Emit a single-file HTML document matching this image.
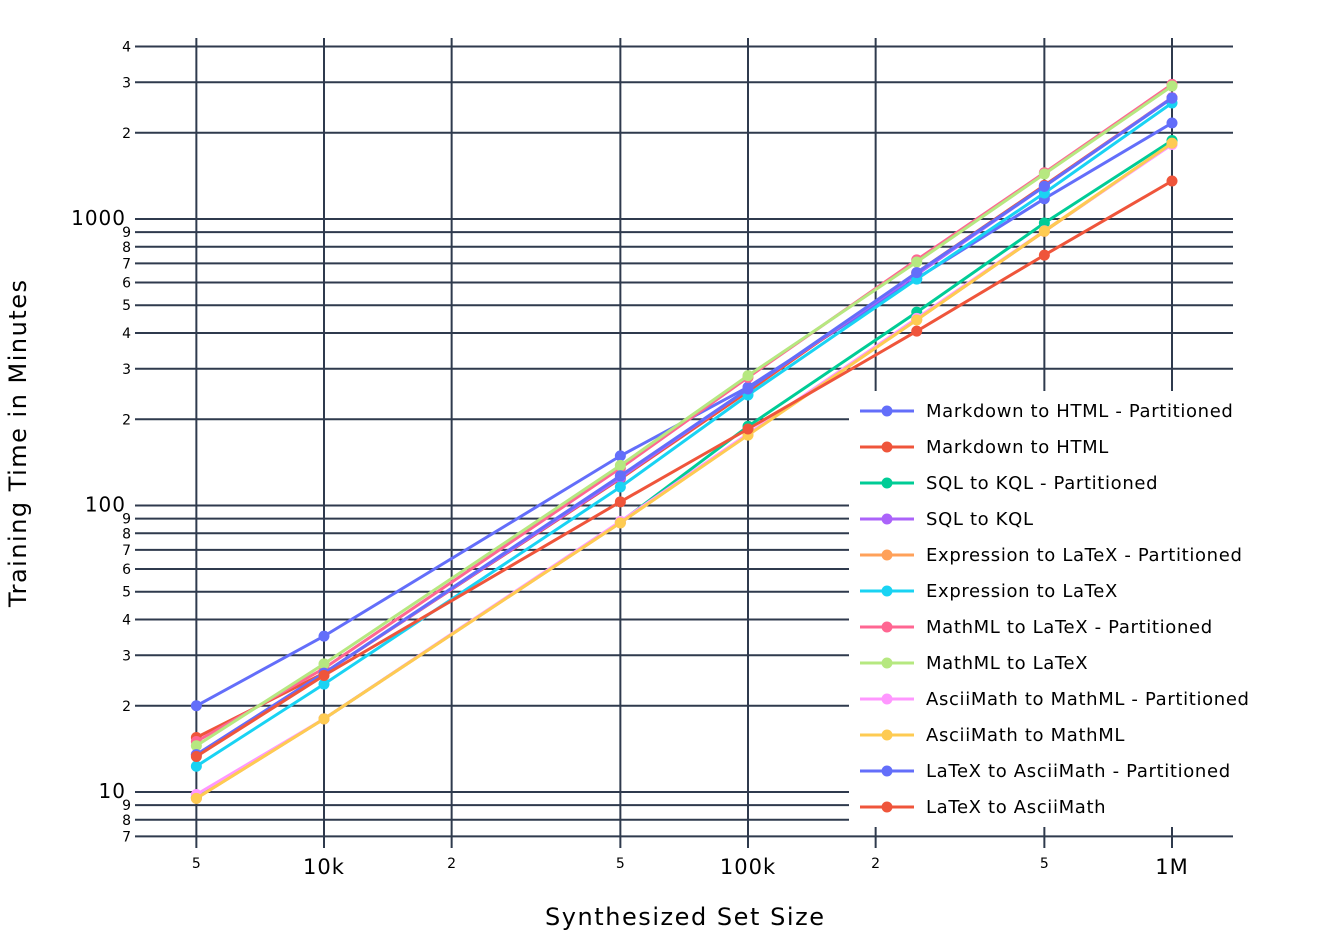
<!DOCTYPE html>
<html><head><meta charset="utf-8"><style>
html,body{margin:0;padding:0;background:#fff;}
svg{display:block;font-family:"DejaVu Sans","Liberation Sans",sans-serif;}
</style></head><body>
<svg id="chart" width="1329" height="949" viewBox="0 0 1329 949">
<g id="grid"></g>
<g id="series"></g>
<rect x="849" y="391" width="402" height="436" fill="#fff"/>
<g id="legend"></g>
<text x="545" y="925" font-size="24" textLength="279" lengthAdjust="spacing" fill="#000">Synthesized Set Size</text>
<text transform="translate(26,607) rotate(-90)" font-size="24" textLength="327" lengthAdjust="spacing" fill="#000">Training Time in Minutes</text>
</svg>
<script>
const xValues=[5000,10000,50000,100000,250000,500000,1000000];
const seriesNames=["Markdown to HTML - Partitioned","Markdown to HTML","SQL to KQL - Partitioned","SQL to KQL","Expression to LaTeX - Partitioned","Expression to LaTeX","MathML to LaTeX - Partitioned","MathML to LaTeX","AsciiMath to MathML - Partitioned","AsciiMath to MathML","LaTeX to AsciiMath - Partitioned","LaTeX to AsciiMath"];
const seriesColors=["#636efa","#EF553B","#00cc96","#ab63fa","#FFA15A","#19d3f3","#FF6692","#B6E880","#FF97FF","#FECB52","#636efa","#EF553B"];
const s0=[20,35,149,259,620,1177,2163];
const s1=[15.5,26,124,250,650,1310,2650];
const s2=[9.6,18,87.5,189,473,968,1880];
const s3=[13.5,26,125,255,640,1300,2650];
const s4=[9.5,18,87,177,445,905,1830];
const s5=[12.3,23.8,116,243,617,1232,2541];
const s6=[15,27,135,280,720,1450,2950];
const s7=[14.5,28,138,284,708,1436,2911];
const s8=[9.8,18,88,178,450,910,1820];
const s9=[9.5,18,87,176,444,908,1840];
const s10=[13.5,26,127,255,650,1300,2640];
const s11=[13.3,25.5,103,185,406,748,1357];
const allSeries=[s0,s1,s2,s3,s4,s5,s6,s7,s8,s9,s10,s11];
const xTickVals=[5000,10000,20000,50000,100000,200000,500000,1000000];
const xTickLabels=["5","10k","2","5","100k","2","5","1M"];
const yTickVals=[7,8,9,10,20,30,40,50,60,70,80,90,100,200,300,400,500,600,700,800,900,1000,2000,3000,4000];
const yTickLabels=["7","8","9","10","2","3","4","5","6","7","8","9","100","2","3","4","5","6","7","8","9","1000","2","3","4"];

const NS="http://www.w3.org/2000/svg";
function X(v){return 324+(Math.log10(v)-4)*424;}
function Y(v){return 792-(Math.log10(v)-1)*286.5;}
function mk(tag,attrs,parent){const e=document.createElementNS(NS,tag);for(const k in attrs)e.setAttribute(k,attrs[k]);parent.appendChild(e);return e;}
const grid=document.getElementById('grid'),ser=document.getElementById('series'),leg=document.getElementById('legend');
const GC="#2f3a4d";
xTickVals.forEach((v,i)=>{
  const x=X(v);
  const l=mk('line',{x1:x,x2:x,y1:38,y2:848,stroke:GC,'stroke-width':2},grid);
  
  
  const big=xTickLabels[i].length>1;
  const t=mk('text',{x:x,y:big?874:868,'font-size':big?21:14,'letter-spacing':big?1:0,'text-anchor':'middle',fill:'#000'},grid);
  t.textContent=xTickLabels[i];
  
  
});
yTickVals.forEach((v,i)=>{
  const y=Y(v);
  const l=mk('line',{x1:135,x2:1233,y1:y,y2:y,stroke:GC,'stroke-width':2},grid);
  
  
  const big=yTickLabels[i].length>1;
  const t=mk('text',{x:big?126:131,y:big?y+6:y+5,'font-size':big?20:14,'letter-spacing':big?1:0,'text-anchor':'end',fill:'#000'},grid);
  t.textContent=yTickLabels[i];
  
  
});
allSeries.forEach((s,si)=>{
  const g=mk('g',{},ser);
  
  
  const pts=s.map((v,i)=>X(xValues[i]).toFixed(1)+','+Y(v).toFixed(1)).join(' ');
  const pl=mk('polyline',{points:pts,fill:'none',stroke:seriesColors[si],'stroke-width':3},g);
  
  
  s.forEach((v,i)=>{
    const c=mk('circle',{cx:X(xValues[i]),cy:Y(v),r:5.5,fill:seriesColors[si]},g);
    
    
  });
});
seriesNames.forEach((n,i)=>{
  const y=411+i*36;
  const g=mk('g',{},leg);
  
  
  mk('line',{x1:860,x2:914,y1:y,y2:y,stroke:seriesColors[i],'stroke-width':3},g);
  mk('circle',{cx:887,cy:y,r:5.5,fill:seriesColors[i]},g);
  const t=mk('text',{x:926,y:y+6,'font-size':18,'letter-spacing':0.65,fill:'#000'},g);
  t.textContent=n;
});
</script>
</body></html>
